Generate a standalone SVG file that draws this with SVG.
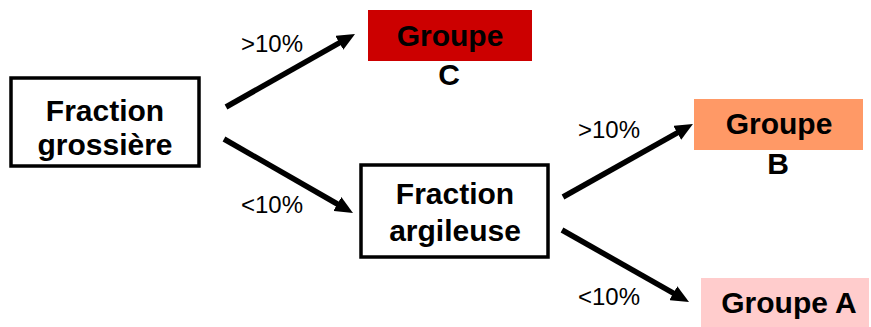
<svg xmlns="http://www.w3.org/2000/svg" width="871" height="327" viewBox="0 0 871 327">
<style>
.box{fill:#fff;stroke:#000;stroke-width:3.5}
.t{font-family:"Liberation Sans",Arial,sans-serif;font-weight:bold;font-size:30px;fill:#000;text-anchor:middle}
.lbl{font-family:"Liberation Sans",Arial,sans-serif;font-size:24px;fill:#000}
.con{stroke:#000;stroke-width:5.5;fill:none;marker-end:url(#ah)}
</style>
<defs>
<marker id="ah" markerUnits="userSpaceOnUse" markerWidth="18" markerHeight="16" viewBox="0 0 18 16" refX="2" refY="8" orient="auto">
<path d="M0,0 L18,8 L0,16 z" fill="#000"/>
</marker>
</defs>
<rect width="871" height="327" fill="#fff"/>
<g id="n-grossiere">
<rect class="box" x="11" y="78" width="188" height="88"/>
<text class="t" x="105" y="121">Fraction</text>
<text class="t" x="105" y="155">grossière</text>
</g>
<g id="n-groupeC">
<rect x="368" y="10" width="164" height="51" fill="#CC0000"/>
<text class="t" x="450" y="46">Groupe</text>
<text class="t" x="449" y="85">C</text>
</g>
<g id="n-argileuse">
<rect class="box" x="361" y="165" width="187" height="92"/>
<text class="t" x="455" y="204">Fraction</text>
<text class="t" x="455" y="241">argileuse</text>
</g>
<g id="n-groupeB">
<rect x="694" y="99" width="169" height="51" fill="#FF9966"/>
<text class="t" x="779" y="134">Groupe</text>
<text class="t" x="778" y="174">B</text>
</g>
<g id="n-groupeA">
<rect x="701" y="278" width="168" height="49" fill="#FFCCCC"/>
<text class="t" x="789" y="313">Groupe A</text>
</g>
<g id="connectors">
<line class="con" x1="226" y1="107" x2="341.1" y2="41.9"/>
<line class="con" x1="224" y1="139" x2="339.1" y2="205"/>
<line class="con" x1="563" y1="197" x2="679" y2="131.8"/>
<line class="con" x1="562" y1="230" x2="675.1" y2="294.1"/>
<text class="lbl" x="241" y="52">&gt;10%</text>
<text class="lbl" x="241" y="213">&lt;10%</text>
<text class="lbl" x="578" y="138">&gt;10%</text>
<text class="lbl" x="578" y="305">&lt;10%</text>
</g>
</svg>
